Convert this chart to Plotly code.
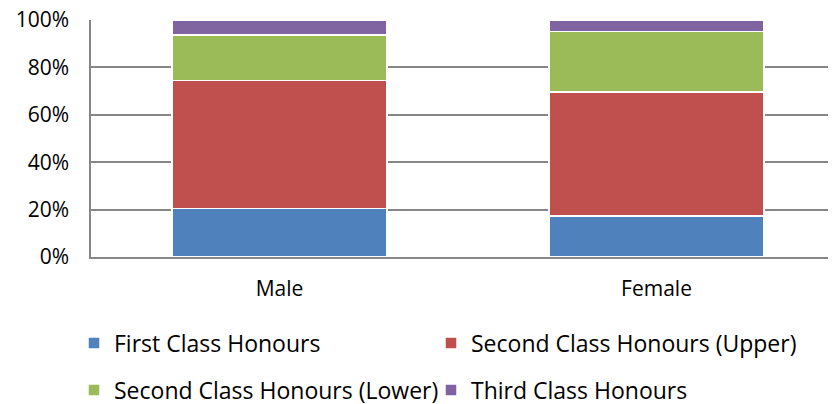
import plotly.graph_objects as go

# percentage of degree classifications by gender
genders = ["Male", "Female"]
first_class = [20.4, 17.3]
second_upper = [54.1, 52.4]
second_lower = [19.2, 25.4]
third_class = [6.3, 4.9]
pct_ticks = [0, 20, 40, 60, 80, 100]

series = [
    ("First Class Honours", first_class, "#4f81bd"),
    ("Second Class Honours (Upper)", second_upper, "#c0504d"),
    ("Second Class Honours (Lower)", second_lower, "#9bbb59"),
    ("Third Class Honours", third_class, "#8064a2"),
]

FONT = "Open Sans"
W, H = 828, 396  # page body adds an 8px margin

fig = go.Figure()
legends = {}
for i, (name, vals, color) in enumerate(series):
    leg = "legend" if i == 0 else f"legend{i + 1}"
    fig.add_trace(go.Bar(
        x=genders, y=vals, name=name, legend=leg,
        marker=dict(color=color, line=dict(color="white", width=1.5)),
        width=0.57,
    ))
    # 2x2 legend grid, one legend per entry
    col, row = i % 2, i // 2
    legends[leg] = dict(
        x=(66 + 357 * col) / W, y=1 - (335 + 47 * row) / H,
        xanchor="left", yanchor="middle",
        xref="container", yref="container",
        font=dict(family=FONT, size=23, color="#000"),
        itemwidth=30, bgcolor="rgba(0,0,0,0)",
    )

fig.update_layout(
    barmode="stack",
    width=W, height=H,
    margin=dict(l=83, r=0, t=12, b=147, autoexpand=False),
    plot_bgcolor="white", paper_bgcolor="white",
    font=dict(family=FONT, size=21, color="#000"),
    showlegend=True,
    hovermode=False,
    **legends,
)
fig.update_xaxes(
    range=[-0.5, 1.476], showline=True, linecolor="#868686", linewidth=1.5,
    ticks="", tickfont=dict(size=21), showgrid=False, ticklabelstandoff=12,
)
fig.update_yaxes(
    range=[0, 100], tickvals=pct_ticks, ticktext=[f"{v}%" for v in pct_ticks],
    showgrid=True, gridcolor="#868686", gridwidth=1.5,
    showline=True, linecolor="#868686", linewidth=1.5,
    ticks="", tickfont=dict(size=21), zeroline=False, ticklabelstandoff=16,
    ticklabeloverflow="allow",
)

fig.write_html("out.html")
